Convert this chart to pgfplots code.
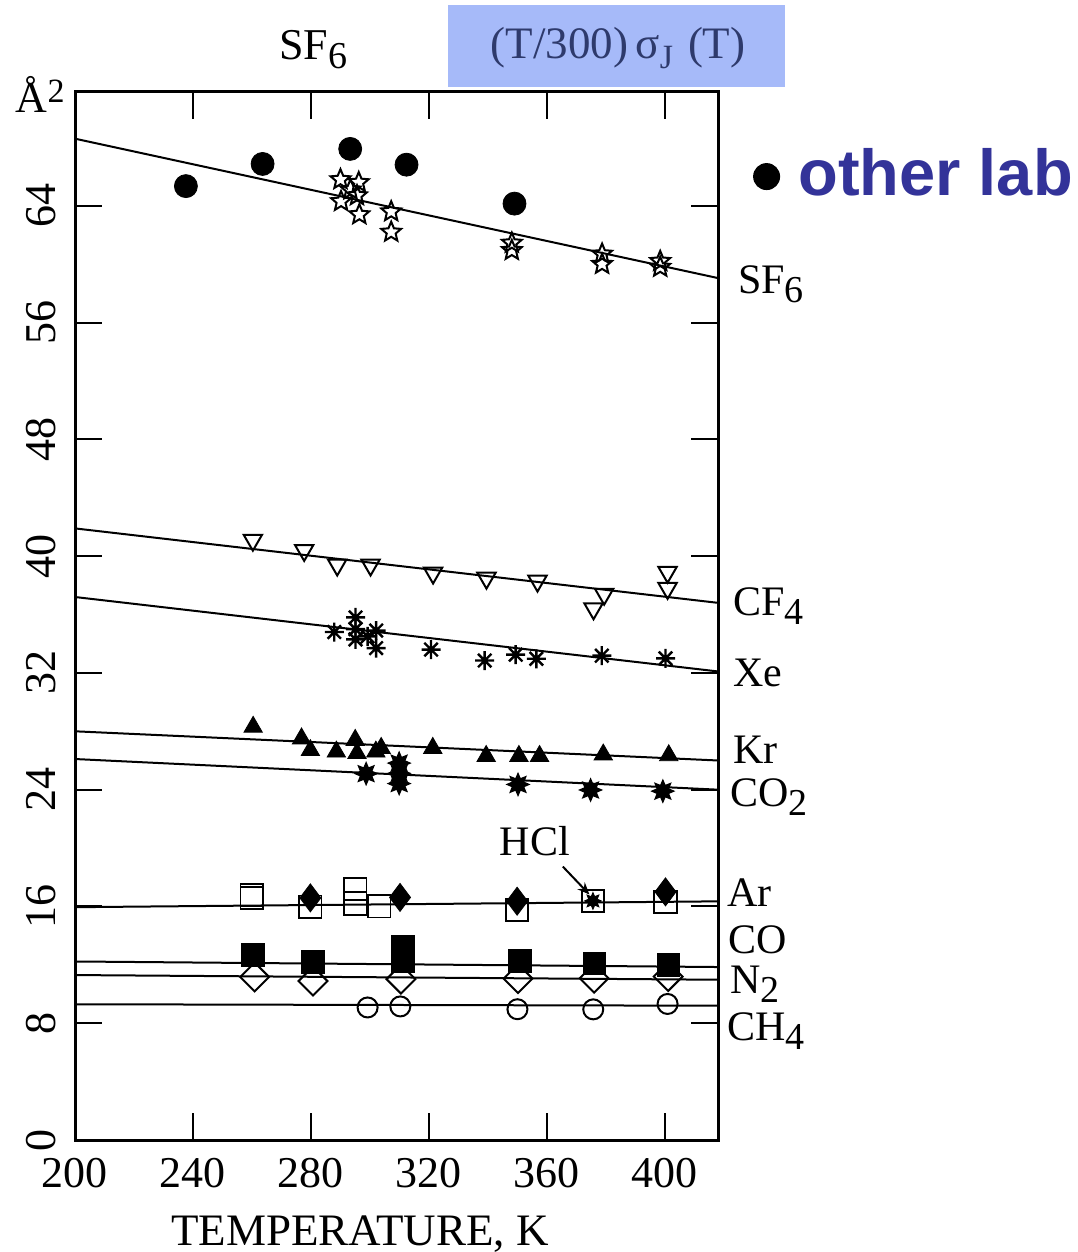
\documentclass[border=0pt]{standalone}
\usepackage{fontspec}
\setmainfont{Liberation Serif}
\newfontfamily\labfont{Liberation Sans}
\usepackage{pgfplots}
\pgfplotsset{compat=1.18}
\usetikzlibrary{arrows.meta}

\definecolor{boxblue}{HTML}{A6BAF9}
\definecolor{boxtext}{HTML}{2E3A6C}
\definecolor{labblue}{HTML}{333399}

% lowered digit for chemical formulas
\newcommand{\sub}[1]{\raisebox{-4.5pt}{\fontsize{19}{19}\selectfont #1}}

% open five-point star
\pgfdeclareplotmark{ostar}{%
  \pgfpathmoveto{\pgfpointpolar{90}{\pgfplotmarksize}}%
  \pgfpathlineto{\pgfpointpolar{126}{0.45\pgfplotmarksize}}%
  \pgfpathlineto{\pgfpointpolar{162}{\pgfplotmarksize}}%
  \pgfpathlineto{\pgfpointpolar{198}{0.45\pgfplotmarksize}}%
  \pgfpathlineto{\pgfpointpolar{234}{\pgfplotmarksize}}%
  \pgfpathlineto{\pgfpointpolar{270}{0.45\pgfplotmarksize}}%
  \pgfpathlineto{\pgfpointpolar{306}{\pgfplotmarksize}}%
  \pgfpathlineto{\pgfpointpolar{342}{0.45\pgfplotmarksize}}%
  \pgfpathlineto{\pgfpointpolar{18}{\pgfplotmarksize}}%
  \pgfpathlineto{\pgfpointpolar{54}{0.45\pgfplotmarksize}}%
  \pgfpathclose
  \pgfusepathqstroke
}
% filled eight-point star
\pgfdeclareplotmark{fstar8}{%
  \pgfpathmoveto{\pgfpointpolar{0}{\pgfplotmarksize}}%
  \pgfpathlineto{\pgfpointpolar{22.5}{0.55\pgfplotmarksize}}%
  \pgfpathlineto{\pgfpointpolar{45}{\pgfplotmarksize}}%
  \pgfpathlineto{\pgfpointpolar{67.5}{0.55\pgfplotmarksize}}%
  \pgfpathlineto{\pgfpointpolar{90}{\pgfplotmarksize}}%
  \pgfpathlineto{\pgfpointpolar{112.5}{0.55\pgfplotmarksize}}%
  \pgfpathlineto{\pgfpointpolar{135}{\pgfplotmarksize}}%
  \pgfpathlineto{\pgfpointpolar{157.5}{0.55\pgfplotmarksize}}%
  \pgfpathlineto{\pgfpointpolar{180}{\pgfplotmarksize}}%
  \pgfpathlineto{\pgfpointpolar{202.5}{0.55\pgfplotmarksize}}%
  \pgfpathlineto{\pgfpointpolar{225}{\pgfplotmarksize}}%
  \pgfpathlineto{\pgfpointpolar{247.5}{0.55\pgfplotmarksize}}%
  \pgfpathlineto{\pgfpointpolar{270}{\pgfplotmarksize}}%
  \pgfpathlineto{\pgfpointpolar{292.5}{0.55\pgfplotmarksize}}%
  \pgfpathlineto{\pgfpointpolar{315}{\pgfplotmarksize}}%
  \pgfpathlineto{\pgfpointpolar{337.5}{0.55\pgfplotmarksize}}%
  \pgfpathclose
  \pgfusepathqfillstroke
}
% eight-spoke asterisk
\pgfdeclareplotmark{ast8}{%
  \pgfpathmoveto{\pgfpointpolar{0}{\pgfplotmarksize}}\pgfpathlineto{\pgfpointpolar{180}{\pgfplotmarksize}}%
  \pgfpathmoveto{\pgfpointpolar{45}{\pgfplotmarksize}}\pgfpathlineto{\pgfpointpolar{225}{\pgfplotmarksize}}%
  \pgfpathmoveto{\pgfpointpolar{90}{\pgfplotmarksize}}\pgfpathlineto{\pgfpointpolar{270}{\pgfplotmarksize}}%
  \pgfpathmoveto{\pgfpointpolar{135}{\pgfplotmarksize}}\pgfpathlineto{\pgfpointpolar{315}{\pgfplotmarksize}}%
  \pgfusepathqstroke
}

\begin{document}
\begin{tikzpicture}
\begin{axis}[
  at={(0,0)}, anchor=south west,
  scale only axis, width=321.5pt, height=524pt,
  xmin=200, xmax=418, ymin=0, ymax=71.8,
  xtick={200,240,...,400}, ytick={0,8,...,64},
  tick align=inside, major tick length=13.5pt,
  axis line style={line width=1.5pt},
  tick style={line width=1pt, black},
  /pgf/number format/assume math mode=true,
  every tick label/.append style={font=\fontsize{22}{22}\selectfont},
  xticklabel style={inner sep=0pt},
  xticklabel shift=9pt,
  yticklabel style={rotate=90, anchor=south, inner sep=0pt},
  yticklabel shift=9.5pt,
  clip=false,
  every axis plot/.append style={black},
]
% fitted curves
\addplot[line width=1pt, no marks] coordinates {(200,68.6) (418,59.05)};
\addplot[line width=1pt, no marks] coordinates {(200,41.9) (418,36.8)};
\addplot[line width=1pt, no marks] coordinates {(200,37.2) (418,32.1)};
\addplot[line width=1pt, no marks] coordinates {(200,28.0) (418,26.0)};
\addplot[line width=1pt, no marks] coordinates {(200,26.1) (418,24.0)};
\addplot[line width=1pt, no marks] coordinates {(200,15.95) (418,16.35)};
\addplot[line width=1pt, no marks] coordinates {(200,12.23) (418,11.85)};
\addplot[line width=1pt, no marks] coordinates {(200,11.3) (418,10.98)};
\addplot[line width=1pt, no marks] coordinates {(200,9.3) (418,9.2)};

% SF6: other lab
\addplot[only marks, mark=*, mark size=5.75pt] coordinates {
  (237.6,65.35) (263.6,66.87) (293.3,67.9) (312.4,66.82) (349,64.15)};
% SF6
\addplot[only marks, mark=ostar, mark size=5.2pt, mark options={line width=1pt}] coordinates {
  (290.0,65.8) (296.2,65.6) (290.2,64.3) (295.6,64.7) (296.4,63.4) (293.4,65.1)
  (307.2,63.6) (307.2,62.2) (348.1,61.45) (348.1,60.95) (378.7,60.7) (378.7,60.0)
  (398.4,60.2) (398.4,59.8)};
% CF4
\addplot[only marks, mark=triangle, mark size=5.3pt, mark options={rotate=180, line width=1pt}] coordinates {
  (260.3,41.1) (277.7,40.4) (288.9,39.4) (300.2,39.4) (321.4,38.85) (339.5,38.5)
  (356.8,38.3) (379.4,37.4) (375.8,36.4) (400.9,38.9) (400.9,37.8)};
% Xe
\addplot[only marks, mark=ast8, mark size=4.75pt, mark options={line width=1.2pt}] coordinates {
  (287.9,34.8) (295.1,35.8) (295.1,35.0) (295.1,34.3) (299.2,34.5) (302.1,34.9)
  (302.1,33.7) (320.7,33.6) (338.9,32.85) (349.4,33.25) (356.4,32.97) (378.6,33.18)
  (400.2,33.0)};
% Kr
\addplot[only marks, mark=triangle*, mark size=5.3pt] coordinates {
  (260.4,28.3) (276.8,27.5) (279.8,26.7) (288.6,26.6) (295.0,27.4) (295.6,26.5)
  (302.0,26.6) (303.8,26.85) (321.3,26.85) (339.4,26.3) (350.5,26.3) (357.5,26.3)
  (379.1,26.4) (401.3,26.35)};
% CO2
\addplot[only marks, mark=fstar8, mark size=5.5pt, mark options={line width=0.6pt}] coordinates {
  (298.7,25.1) (309.9,25.82) (309.9,25.12) (309.9,24.42) (350.2,24.36) (374.8,23.98)
  (399.3,23.9)};
% Ar
\addplot[only marks, mark=square, mark size=5.6pt, mark options={line width=0.9pt}] coordinates {
  (259.9,16.57) (259.9,16.77) (279.8,15.99) (295.0,17.2) (295.0,16.2) (303.2,16.01)
  (349.9,15.76) (375.6,16.38) (400.2,16.3)};
\addplot[only marks, mark=diamond*, mark size=7pt] coordinates {
  (279.8,16.59) (310.2,16.62) (349.9,16.36) (400.2,17.0)};
% HCl
\addplot[only marks, mark=fstar8, mark size=4.2pt] coordinates {(375.6,16.38)};
% N2
\addplot[only marks, mark=square, mark size=5.1pt, mark options={rotate=45, line width=1pt}] coordinates {
  (260.9,11.17) (280.7,10.89) (310.5,11.02) (350.2,11.06) (376.0,11.08) (401.1,11.2)};
% CO
\addplot[only marks, mark=square*, mark size=5.6pt] coordinates {
  (260.3,12.67) (280.7,12.19) (311.2,13.22) (311.2,12.22) (350.9,12.26) (376.1,12.08)
  (401.2,12.0)};
% CH4
\addplot[only marks, mark=o, mark size=5pt, mark options={line width=1pt}] coordinates {
  (299.2,9.08) (310.3,9.15) (350.0,8.96) (375.7,8.95) (400.9,9.32)};

% curve names
\begin{scope}[every node/.style={anchor=base west, inner sep=0pt, font=\fontsize{21}{21}\selectfont}]
\node at (axis cs:424.7,57.97) {SF\sub{6}};
\node at (axis cs:423,35.93) {CF\sub{4}};
\node at (axis cs:423,31.07) {Xe};
\node at (axis cs:423,25.8) {Kr};
\node at (axis cs:422,22.85) {CO\sub{2}};
\node at (axis cs:421,16.0) {Ar};
\node at (axis cs:421.3,12.75) {CO};
\node at (axis cs:422,10.04) {N\sub{2}};
\node at (axis cs:421,6.8) {CH\sub{4}};
\node at (axis cs:343.9,19.47) {HCl};
\end{scope}
\draw[line width=1pt, -{Stealth[length=6pt,width=5pt]}] (axis cs:365.4,18.73) -- (axis cs:374.4,16.82);
\end{axis}

% headings above the frame
\fill[boxblue] (186.5pt,526.5pt) rectangle (355pt,567.5pt);
\node[text=boxtext, font=\fontsize{22.5}{22.5}\selectfont, inner sep=0pt] at (271.5pt,546pt)
  {(T/300)\,σ\raisebox{-5pt}{\fontsize{17}{17}\selectfont J}\,\,(T)};
\node[anchor=base west, inner sep=0pt, font=\fontsize{22}{22}\selectfont] at (102pt,540pt) {SF\sub{6}};
\node[anchor=base west, inner sep=0pt, font=\fontsize{22}{22}\selectfont] at (-29.75pt,513.5pt) {Å\raisebox{5pt}{\fontsize{17}{17}\selectfont 2}};
\node[anchor=base, inner sep=0pt, font=\fontsize{22.5}{22.5}\selectfont] at (142.5pt,-52.5pt) {TEMPERATURE, K};
\fill (345.8pt,481.7pt) circle (6.75pt);
\node[anchor=base west, inner sep=0pt, text=labblue, font=\labfont\bfseries\fontsize{32.5}{32.5}\selectfont] at (361.5pt,472pt) {other lab};

\pgfresetboundingbox
\useasboundingbox (-37.5pt,-56pt) rectangle (501pt,570pt);
\end{tikzpicture}
\end{document}
